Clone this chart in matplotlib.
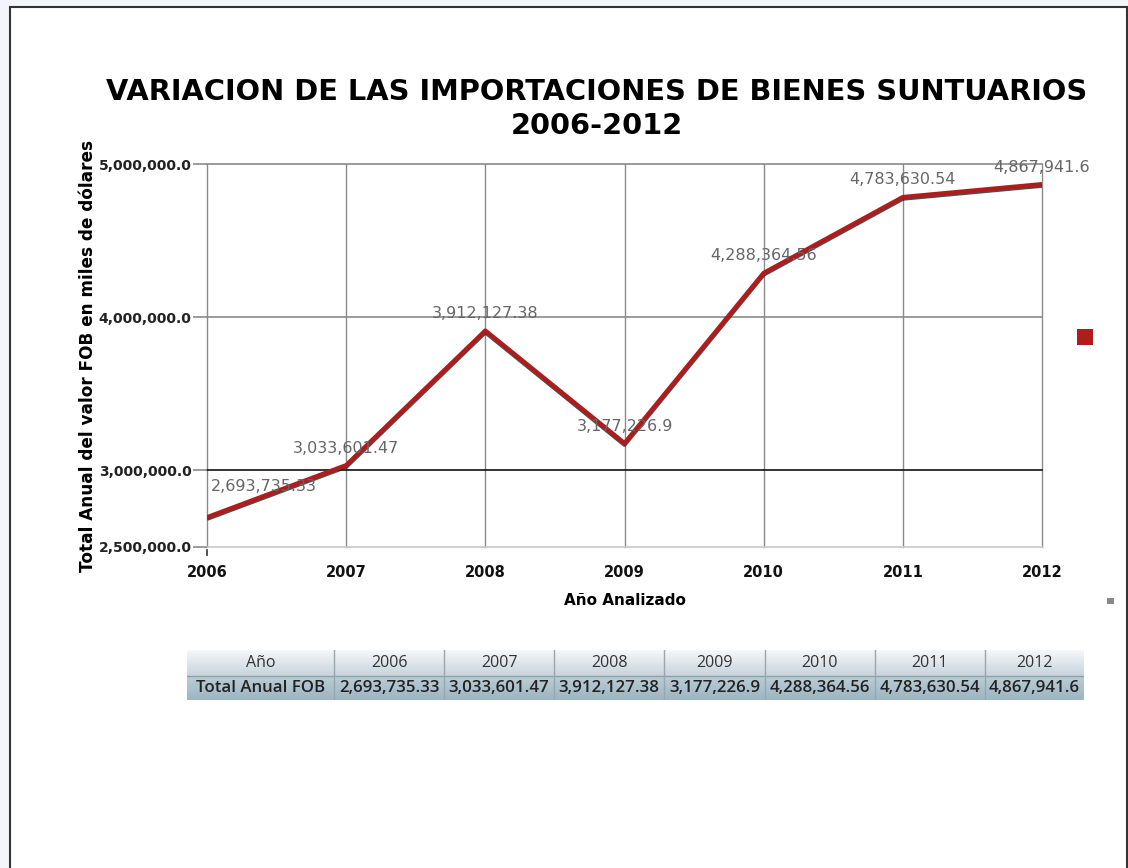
import matplotlib
matplotlib.use('Agg')
import matplotlib.pyplot as plt
import matplotlib.patheffects as pe
import numpy as np
from matplotlib.patches import Rectangle

# datos
years = [2006, 2007, 2008, 2009, 2010, 2011, 2012]
fob = [2693735.33, 3033601.47, 3912127.38, 3177226.9, 4288364.56, 4783630.54, 4867941.6]
fob_text = ["2,693,735.33", "3,033,601.47", "3,912,127.38", "3,177,226.9",
            "4,288,364.56", "4,783,630.54", "4,867,941.6"]
y_ticks = [2500000, 3000000, 4000000, 5000000]
y_tick_labels = ["2,500,000.0", "3,000,000.0", "4,000,000.0", "5,000,000.0"]

W, H = 1128, 868
fig = plt.figure(figsize=(W / 100, H / 100), dpi=100)
fig.patch.set_facecolor('#f4f5fb')

# marco de la pagina
fig.add_artist(Rectangle((10 / W, -0.01), (1127 - 10) / W, (H - 7) / H + 0.01,
                         transform=fig.transFigure, facecolor='white',
                         edgecolor='#333333', linewidth=1.5, zorder=-10))

def fx(px):
    return px / W

def fy(py):
    return 1 - py / H

ax = fig.add_axes([fx(207), fy(547), fx(1042) - fx(207), fy(164) - fy(547)])
ax.set_facecolor('white')
ax.set_xlim(2006, 2012)
ax.set_ylim(2500000, 5000000)

for s in ax.spines.values():
    s.set_visible(False)

# rejilla
for yr in years:
    ax.axvline(yr, color='#8a8a8a', lw=1.0, clip_on=False, zorder=1)
grid_colors = {2500000: '#c8c8c8', 3000000: '#111111', 4000000: '#8a8a8a', 5000000: '#8a8a8a'}
for v in y_ticks:
    ax.axhline(v, color=grid_colors[v], lw=1.2, clip_on=False, zorder=1)

ax.set_xticks(years)
ax.set_xticklabels([str(y) for y in years], fontsize=10.5, fontweight='bold', color='#111111')
ax.set_yticks(y_ticks)
ax.set_yticklabels(y_tick_labels, fontsize=10, fontweight='bold', color='#222222')
ax.tick_params(axis='y', length=10, width=1.2, color='#8a8a8a', pad=1)
ax.tick_params(axis='x', length=0, pad=13)
# pequeña marca bajo 2006
ax.annotate("", xy=(2006, 0), xycoords=('data', 'axes fraction'), xytext=(0, -8),
            textcoords='offset points', arrowprops=dict(arrowstyle='-', color='#333333', lw=1.2))

ax.plot(years, fob, color='#b01c1c', lw=3.2, solid_capstyle='butt', zorder=3,
        path_effects=[pe.SimpleLineShadow(offset=(0, -1), shadow_color='#222222', alpha=0.8),
                      pe.Normal()])

# etiquetas de datos
for i, (yr, v, t) in enumerate(zip(years, fob, fob_text)):
    if i == 0:
        ax.annotate(t, (yr, v), xytext=(3, 17), textcoords='offset points',
                    ha='left', va='bottom', fontsize=11.5, color='#666666', zorder=4)
    else:
        ax.annotate(t, (yr, v), xytext=(0, 7), textcoords='offset points',
                    ha='center', va='bottom', fontsize=11.5, color='#666666', zorder=4,
                    annotation_clip=False)

ax.set_xlabel("Año Analizado", fontsize=11, fontweight='bold', labelpad=9)
ax.set_ylabel("Total Anual del valor FOB en miles de dólares", fontsize=12.2,
              fontweight='bold', labelpad=1)

fig.text(fx(597), fy(109), "VARIACION DE LAS IMPORTACIONES DE BIENES SUNTUARIOS\n2006-2012",
         ha='center', va='center', fontsize=20.8, fontweight='bold', linespacing=1.28)

# leyenda (cuadro rojo)
fig.add_artist(Rectangle((fx(1077), fy(345)), 16 / W, 16 / H, transform=fig.transFigure,
                         facecolor='#b01c1c', edgecolor='none'))
fig.add_artist(Rectangle((fx(1107), fy(604)), 7 / W, 6 / H, transform=fig.transFigure,
                         facecolor='#888888', edgecolor='none'))

# tabla
edges = [187, 334, 444, 554, 664, 765, 875, 985, 1084]
tab = fig.add_axes([fx(187), fy(700), fx(1084) - fx(187), fy(650) - fy(700)])
tab.axis('off')
g1 = np.linspace(0, 1, 64).reshape(-1, 1)
hdr = np.array([0xf6, 0xf8, 0xfa]) / 255 * (1 - g1) + np.array([0xc8, 0xd3, 0xdb]) / 255 * g1
row = np.array([0xbc, 0xcd, 0xd6]) / 255 * (1 - g1) + np.array([0x9c, 0xb5, 0xc2]) / 255 * g1
tab.imshow(hdr.reshape(64, 1, 3), extent=[187, 1084, 676, 650], aspect='auto')
tab.imshow(row.reshape(64, 1, 3), extent=[187, 1084, 700, 676], aspect='auto')
tab.set_xlim(187, 1084)
tab.set_ylim(700, 650)
tab.plot([187, 1084], [676, 676], color='#8aa0ad', lw=1)
for e in edges[1:-1]:
    tab.plot([e, e], [650, 700], color='#9aa6ad', lw=1)

tfont = ['Open Sans', 'DejaVu Sans']
header = ["Año"] + [str(y) for y in years]
values = ["Total Anual FOB"] + fob_text
for j in range(len(header)):
    cx = (edges[j] + edges[j + 1]) / 2
    tab.text(cx, 663, header[j], ha='center', va='center', fontsize=11.5,
             color='#333333', family=tfont)
    tab.text(cx, 688.5, values[j], ha='center', va='center', fontsize=12.2,
             color='#222222', fontweight='semibold', family=tfont)

fig.savefig('out.png', dpi=100)
